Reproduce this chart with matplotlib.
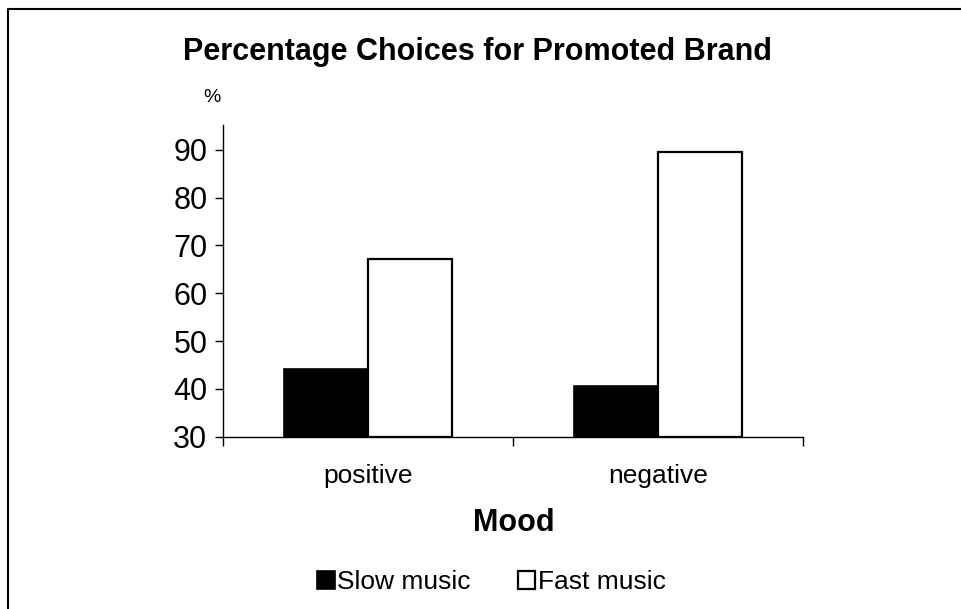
import numpy as np
import matplotlib
matplotlib.use("Agg")
from matplotlib import pyplot as plt
from matplotlib.lines import Line2D

plt.rcParams['font.family'] = ['Liberation Sans', 'DejaVu Sans']

moods = ['positive', 'negative']
slowMusic = [44.1, 40.5]
fastMusic = [67.1, 89.6]
yTicks = [30, 40, 50, 60, 70, 80, 90]

BAR_WIDTH = 0.29

fig = plt.figure(figsize=(9.62, 6.09), dpi=100)
ax = fig.add_axes([0.2315, 0.283, 0.6032, 0.512])

x = np.arange(len(moods))
ax.bar(x - BAR_WIDTH / 2, [v - 30 for v in slowMusic], BAR_WIDTH, bottom=30,
       color='black', edgecolor='black', linewidth=1.2, label='Slow music')
ax.bar(x + BAR_WIDTH / 2, [v - 30 for v in fastMusic], BAR_WIDTH, bottom=30,
       color='white', edgecolor='black', linewidth=1.6, label='Fast music')

ax.set_xlim(-0.5, 1.5)
ax.set_ylim(30, 95.2)
ax.set_yticks(yTicks)
ax.tick_params(axis='y', direction='out', length=6, width=1, pad=5, labelsize=22)

# category separators as ticks, names sit between them
ax.set_xticks([-0.5, 0.5, 1.5])
ax.set_xticklabels([])
ax.set_xticks(x, minor=True)
ax.set_xticklabels(moods, minor=True)
ax.tick_params(axis='x', which='major', direction='out', length=6.5, width=1)
ax.tick_params(axis='x', which='minor', length=0, pad=20, labelsize=19)

for side in ['top', 'right']:
    ax.spines[side].set_visible(False)
for side in ['left', 'bottom']:
    ax.spines[side].set_linewidth(1)

fig.text(0.496, 0.915, 'Percentage Choices for Promoted Brand', ha='center', va='center',
         fontsize=22, fontweight='bold')
fig.text(0.2205, 0.84, '%', ha='center', va='center', fontsize=14)
fig.text(0.534, 0.141, 'Mood', ha='center', va='center', fontsize=22, fontweight='bold')

fig.legend(loc='center', bbox_to_anchor=(0.511, 0.044), ncol=2, frameon=False,
           fontsize=19, handlelength=0.65, handleheight=0.65, handletextpad=0.1,
           columnspacing=1.8, borderaxespad=0)

# outer frame, open on the right and bottom
fig.add_artist(Line2D([0.0088, 0.0088, 1.0], [0.0, 0.9855, 0.9855],
                      transform=fig.transFigure, color='black', linewidth=1.5))

plt.savefig('out.png', dpi=100)
